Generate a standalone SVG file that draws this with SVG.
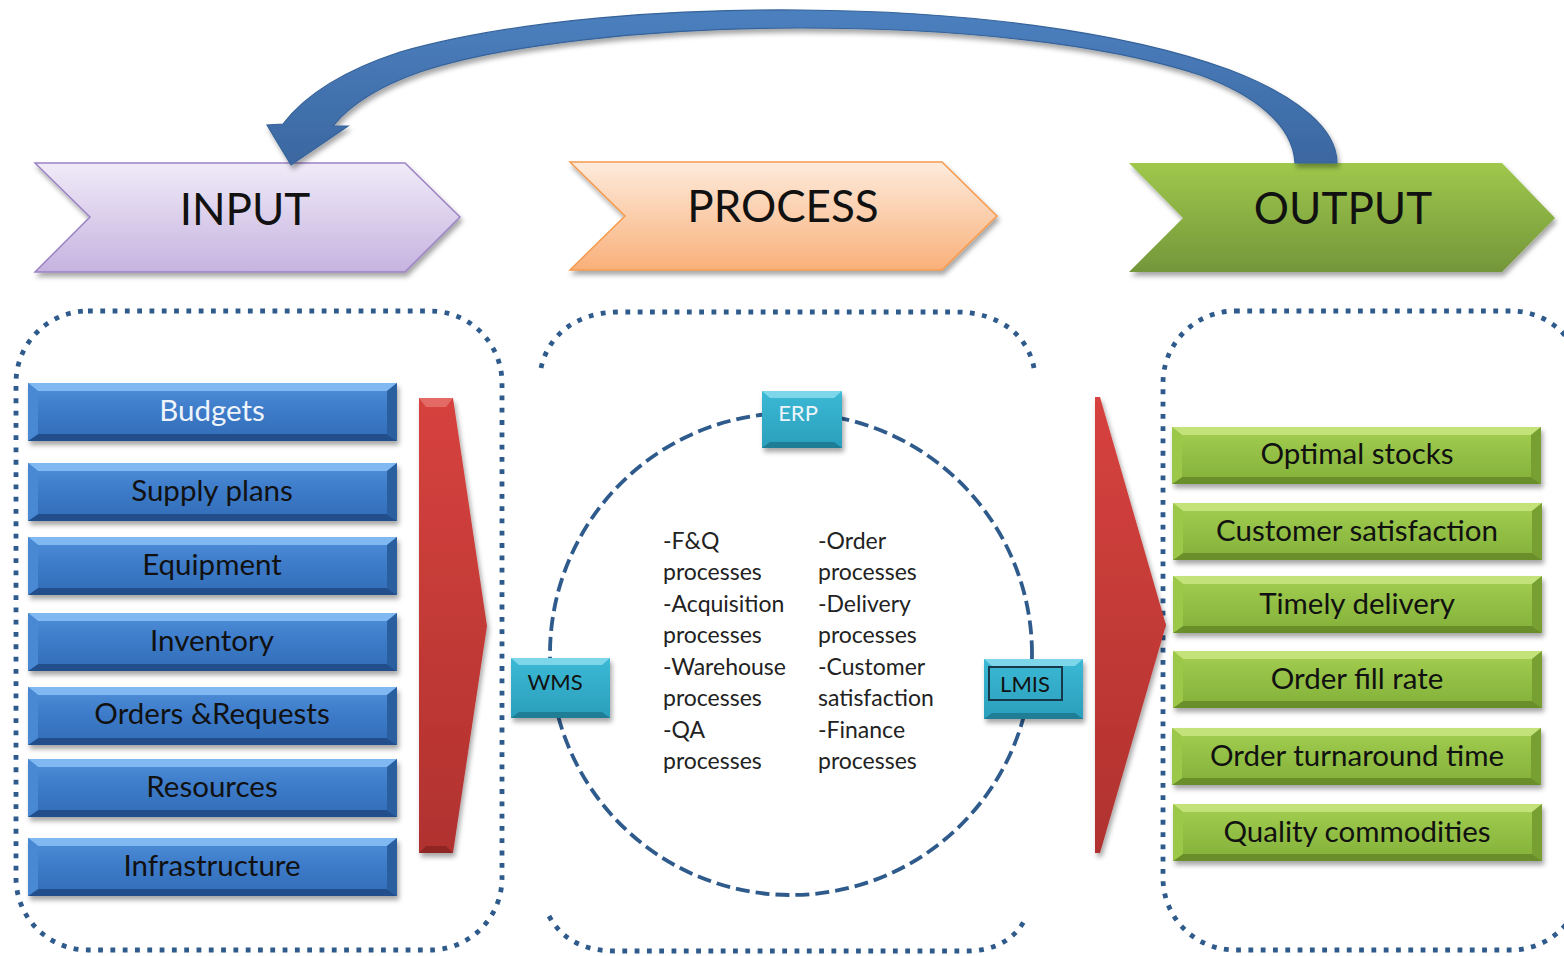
<svg xmlns="http://www.w3.org/2000/svg" xmlns:xlink="http://www.w3.org/1999/xlink" width="1564" height="956" viewBox="0 0 1564 956">
  <style>
    text { font-family: Lato, "Open Sans", "Liberation Sans", sans-serif; }
    .head { font-size: 44px; text-anchor: middle; fill: #111; }
    .bar { font-size: 29.5px; text-anchor: middle; fill: #111; }
    .sys { font-size: 22px; text-anchor: middle; fill: #111; }
    .proc { font-size: 23px; fill: #222; }
    text.light { fill: #eef4fb; }
    .dots { fill: none; stroke: #2f5b8c; stroke-width: 4.8; stroke-dasharray: 4.8 7.5; }
    .ring { fill: none; stroke: #2f5b8c; stroke-width: 3.8; stroke-dasharray: 14 6; }
  </style>
  <defs>
    <filter id="shadow" x="-10%" y="-10%" width="125%" height="140%">
      <feDropShadow dx="2" dy="4" stdDeviation="2.5" flood-color="#000" flood-opacity="0.35"/>
    </filter>
    <linearGradient id="gInput" x1="0" y1="0" x2="0" y2="1">
      <stop offset="0" stop-color="#f0ebf8"/>
      <stop offset="1" stop-color="#c6b3df"/>
    </linearGradient>
    <linearGradient id="gProcess" x1="0" y1="0" x2="0" y2="1">
      <stop offset="0" stop-color="#fdebdc"/>
      <stop offset="1" stop-color="#f9b07a"/>
    </linearGradient>
    <linearGradient id="gOutput" x1="0" y1="0" x2="0" y2="1">
      <stop offset="0" stop-color="#9fc84c"/>
      <stop offset="1" stop-color="#74963a"/>
    </linearGradient>
    <linearGradient id="gBlue" x1="0" y1="0" x2="0" y2="1">
      <stop offset="0" stop-color="#4f8fd9"/>
      <stop offset="0.5" stop-color="#3c7ac8"/>
      <stop offset="1" stop-color="#336db7"/>
    </linearGradient>
    <linearGradient id="gGreen" x1="0" y1="0" x2="0" y2="1">
      <stop offset="0" stop-color="#a4cf52"/>
      <stop offset="0.5" stop-color="#92bf44"/>
      <stop offset="1" stop-color="#84b03a"/>
    </linearGradient>
    <linearGradient id="gTeal" x1="0" y1="0" x2="0" y2="1">
      <stop offset="0" stop-color="#3cb9d5"/>
      <stop offset="1" stop-color="#2a9fbc"/>
    </linearGradient>
    <linearGradient id="gRed" x1="0" y1="0" x2="0" y2="1">
      <stop offset="0" stop-color="#d6423e"/>
      <stop offset="1" stop-color="#b0322f"/>
    </linearGradient>
    <linearGradient id="gLoop" x1="0" y1="0" x2="0" y2="1">
      <stop offset="0" stop-color="#4c80bf"/>
      <stop offset="1" stop-color="#3b67a0"/>
    </linearGradient>

    <!-- bevelled bars -->
    <g id="blueBar">
      <rect width="369" height="58" fill="url(#gBlue)"/>
      <polygon points="0,0 369,0 359,8 10,8" fill="#80b9f2"/>
      <polygon points="0,58 369,58 359,51 10,51" fill="#24508c"/>
      <polygon points="0,0 10,8 10,51 0,58" fill="#4a88d3"/>
      <polygon points="369,0 359,8 359,51 369,58" fill="#2c5f9f"/>
    </g>
    <g id="greenBar">
      <rect width="369" height="57" fill="url(#gGreen)"/>
      <polygon points="0,0 369,0 359,8 10,8" fill="#c3e27a"/>
      <polygon points="0,57 369,57 359,50 10,50" fill="#6a8f2c"/>
      <polygon points="0,0 10,8 10,50 0,57" fill="#9cc84a"/>
      <polygon points="369,0 359,8 359,50 369,57" fill="#779f33"/>
    </g>
  </defs>

  <!-- grouping frames -->
  <g id="frames">
    <rect class="dots" x="16" y="311" width="486" height="639" rx="72"/>
    <path class="dots" d="M541,368 C548,336 575,312 620,312 L955,312 C1000,312 1028,336 1034,368"/>
    <path class="dots" d="M549,916 C562,940 585,951 615,951 L965,951 C995,951 1015,940 1027,916"/>
    <rect class="dots" x="1163" y="311" width="420" height="639" rx="72"/>
  </g>

  <!-- stage headers -->
  <g id="input-header">
    <polygon points="35,163 405,163 460,217 405,272 35,272 90,217" fill="url(#gInput)" stroke="#9c83c5" stroke-width="1.5" filter="url(#shadow)"/>
    <text class="head" x="245" y="225">INPUT</text>
  </g>
  <g id="process-header">
    <polygon points="570,162 942,162 997,216 942,270 570,270 625,216" fill="url(#gProcess)" stroke="#f59a4e" stroke-width="1.5" filter="url(#shadow)"/>
    <text class="head" x="783" y="222">PROCESS</text>
  </g>
  <g id="output-header">
    <polygon points="1129,163 1502,163 1555,218 1502,272 1129,272 1183,218" fill="url(#gOutput)" filter="url(#shadow)"/>
    <text class="head" x="1343" y="224">OUTPUT</text>
  </g>

  <!-- feedback loop from output back to input -->
  <g id="connectors">
    <path d="M1295,163 C1293,125 1255,95 1200,75 C1100,42 950,28 800,28 C650,28 500,45 420,72 C380,86 350,105 333,126 L348,126 L291,165 L267,125 L283,124 C305,95 345,70 400,52 C520,18 680,9 800,10 C960,11 1120,30 1230,70 C1300,97 1337,130 1337,163 Z" fill="url(#gLoop)" stroke="#36639a" stroke-width="1.2" filter="url(#shadow)"/>
  </g>

  <!-- input items -->
  <g id="in-budgets"><use href="#blueBar" x="28" y="383" filter="url(#shadow)"/><text class="bar light" x="212" y="421">Budgets</text></g>
  <g id="in-supply"><use href="#blueBar" x="28" y="463" filter="url(#shadow)"/><text class="bar" x="212" y="501">Supply plans</text></g>
  <g id="in-equipment"><use href="#blueBar" x="28" y="537" filter="url(#shadow)"/><text class="bar" x="212" y="575">Equipment</text></g>
  <g id="in-inventory"><use href="#blueBar" x="28" y="613" filter="url(#shadow)"/><text class="bar" x="212" y="651">Inventory</text></g>
  <g id="in-orders"><use href="#blueBar" x="28" y="687" filter="url(#shadow)"/><text class="bar" x="212" y="724">Orders &amp;Requests</text></g>
  <g id="in-resources"><use href="#blueBar" x="28" y="759" filter="url(#shadow)"/><text class="bar" x="212" y="797">Resources</text></g>
  <g id="in-infrastructure"><use href="#blueBar" x="28" y="838" filter="url(#shadow)"/><text class="bar" x="212" y="876">Infrastructure</text></g>

  <!-- flow arrows -->
  <g id="flow-in">
    <polygon points="419,398 453,398 487,626 453,853 419,853" fill="url(#gRed)" filter="url(#shadow)"/>
    <polygon points="419,398 453,398 446,407 426,407" fill="#e46a66"/>
    <polygon points="419,853 453,853 446,846 426,846" fill="#8f2624"/>
  </g>
  <g id="flow-out">
    <polygon points="1095,397 1100,397 1166,625 1100,853 1095,853" fill="url(#gRed)" filter="url(#shadow)"/>
  </g>

  <!-- process core -->
  <g id="process-ring">
    <circle class="ring" cx="791" cy="654" r="241"/>
  </g>
  <g id="process-text">
    <text class="proc" x="663" y="549">-F&amp;Q</text>
    <text class="proc" x="663" y="580">processes</text>
    <text class="proc" x="663" y="612">-Acquisition</text>
    <text class="proc" x="663" y="643">processes</text>
    <text class="proc" x="663" y="675">-Warehouse</text>
    <text class="proc" x="663" y="706">processes</text>
    <text class="proc" x="663" y="738">-QA</text>
    <text class="proc" x="663" y="769">processes</text>
    <text class="proc" x="818" y="549">-Order</text>
    <text class="proc" x="818" y="580">processes</text>
    <text class="proc" x="818" y="612">-Delivery</text>
    <text class="proc" x="818" y="643">processes</text>
    <text class="proc" x="818" y="675">-Customer</text>
    <text class="proc" x="818" y="706">satisfaction</text>
    <text class="proc" x="818" y="738">-Finance</text>
    <text class="proc" x="818" y="769">processes</text>
  </g>
  <g id="sys-erp">
    <rect x="762" y="391" width="80" height="57" fill="url(#gTeal)" filter="url(#shadow)"/>
    <polygon points="762,391 842,391 834,398 770,398" fill="#7dd6ea"/>
    <polygon points="762,448 842,448 834,442 770,442" fill="#1f7d95"/>
    <text class="sys light" x="798" y="421">ERP</text>
  </g>
  <g id="sys-wms">
    <rect x="511" y="658" width="99" height="60" fill="url(#gTeal)" filter="url(#shadow)"/>
    <polygon points="511,658 610,658 602,665 519,665" fill="#7dd6ea"/>
    <polygon points="511,718 610,718 602,712 519,712" fill="#1f7d95"/>
    <text class="sys" x="555" y="690">WMS</text>
  </g>
  <g id="sys-lmis">
    <rect x="984" y="659" width="99" height="60" fill="url(#gTeal)" filter="url(#shadow)"/>
    <polygon points="984,659 1083,659 1075,666 992,666" fill="#7dd6ea"/>
    <polygon points="984,719 1083,719 1075,713 992,713" fill="#1f7d95"/>
    <rect x="989" y="667" width="73" height="33" fill="none" stroke="#16384a" stroke-width="2"/>
    <text class="sys" x="1025" y="692">LMIS</text>
  </g>

  <!-- output items -->
  <g id="out-stocks"><use href="#greenBar" x="1172" y="427" filter="url(#shadow)"/><text class="bar" x="1357" y="464">Optimal stocks</text></g>
  <g id="out-satisfaction"><use href="#greenBar" x="1173" y="503" filter="url(#shadow)"/><text class="bar" x="1357" y="541">Customer satisfaction</text></g>
  <g id="out-delivery"><use href="#greenBar" x="1173" y="576" filter="url(#shadow)"/><text class="bar" x="1357" y="614">Timely delivery</text></g>
  <g id="out-fill"><use href="#greenBar" x="1173" y="651" filter="url(#shadow)"/><text class="bar" x="1357" y="689">Order fill rate</text></g>
  <g id="out-turnaround"><use href="#greenBar" x="1172" y="728" filter="url(#shadow)"/><text class="bar" x="1357" y="766">Order turnaround time</text></g>
  <g id="out-quality"><use href="#greenBar" x="1173" y="804" filter="url(#shadow)"/><text class="bar" x="1357" y="842">Quality commodities</text></g>
</svg>
